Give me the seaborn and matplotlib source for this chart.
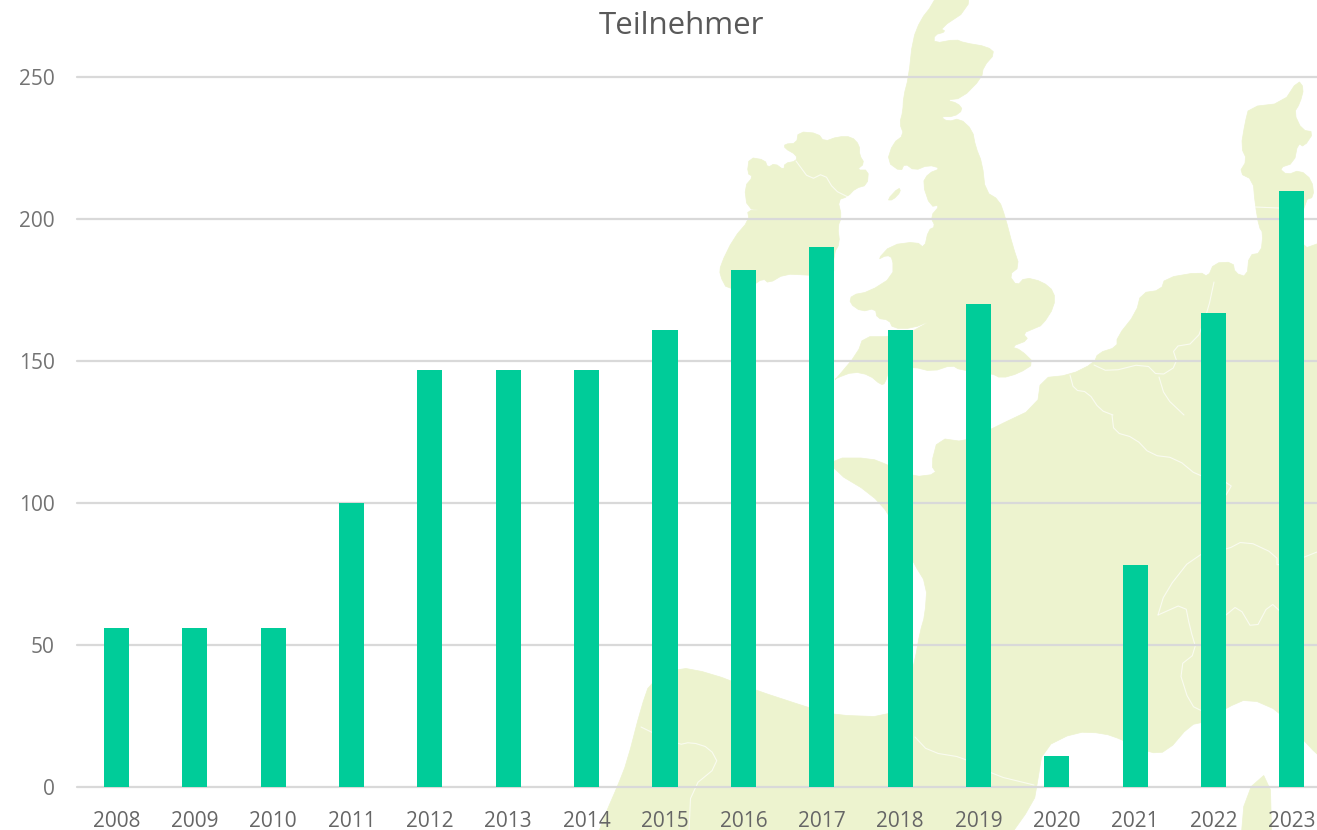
import matplotlib.pyplot as plt
import seaborn as sns
from matplotlib.patches import Polygon

years = ["2008", "2009", "2010", "2011", "2012", "2013", "2014", "2015",
         "2016", "2017", "2018", "2019", "2020", "2021", "2022", "2023"]
teilnehmer = [56, 56, 56, 100, 147, 147, 147, 161, 182, 190, 161, 170, 11, 78, 167, 210]
y_ticks = [0, 50, 100, 150, 200, 250]

BAR = "#00CC99"
LAND = "#EDF3CF"
GRID = "#D9D9D9"

W, H = 1317, 830


# the map outlines were traced on zoomed crops, so scale them back to pixels
def z1(points):
    return [(700 + x / 2.54, y / 3) for x, y in points]


# corner cutting, takes the hard edges off the traced outlines
def smooth(points, closed=True):
    out = [] if closed else [points[0]]
    n = len(points)
    for i in range(n if closed else n - 1):
        (x0, y0), (x1, y1) = points[i], points[(i + 1) % n]
        out.append((0.75 * x0 + 0.25 * x1, 0.75 * y0 + 0.25 * y1))
        out.append((0.25 * x0 + 0.75 * x1, 0.25 * y0 + 0.75 * y1))
    if not closed:
        out.append(points[-1])
    return out


britain = z1([
    (610, -40), (685, -40), (680, 30), (610, 85), (625, 95), (595, 105), (595, 130), (650, 118),
    (670, 128), (730, 140), (750, 160), (720, 200), (715, 235), (665, 295), (625, 300),
    (655, 310), (668, 330), (645, 350), (610, 350), (630, 365), (660, 355), (692, 390),
    (700, 440), (717, 490), (725, 575), (760, 600), (775, 650), (795, 740), (812, 800),
    (785, 825), (805, 858), (825, 832), (870, 845), (900, 875), (900, 920), (870, 975),
    (850, 985), (820, 1000), (835, 1020), (790, 1040), (815, 1050), (850, 1090), (810, 1120),
    (765, 1135), (740, 1120), (660, 1110), (640, 1095), (590, 1115), (540, 1100), (480, 1110),
    (470, 1150), (460, 1155), (430, 1125), (390, 1115), (345, 1135), (343, 1140), (400, 1060),
    (415, 1010), (480, 1010), (530, 1000), (590, 960), (540, 985), (490, 985), (480, 960),
    (450, 955), (445, 925), (410, 935), (380, 910), (385, 885), (430, 875), (490, 830),
    (490, 775), (475, 765), (450, 780), (485, 735), (550, 725), (570, 745), (580, 690),
    (598, 680), (585, 650), (610, 615), (585, 620), (565, 550), (580, 520), (612, 505),
    (580, 495), (545, 512), (520, 490), (510, 515), (475, 485), (490, 430), (518, 405),
    (507, 370), (515, 335), (517, 290), (530, 230), (540, 120), (560, 60), (590, 15),
])
ireland = z1([
    (125, 472), (165, 480), (172, 503), (190, 490), (213, 510), (215, 490), (245, 483),
    (245, 465), (215, 445), (215, 432), (245, 430), (250, 395), (300, 400), (315, 425),
    (350, 410), (385, 410), (405, 435), (405, 465), (418, 490), (398, 510), (428, 510),
    (425, 555), (395, 565), (375, 590), (350, 600), (360, 650), (350, 680), (355, 730),
    (340, 760), (340, 830), (270, 825), (215, 822), (175, 850), (160, 835), (130, 860),
    (70, 870), (50, 825), (52, 795), (85, 715), (125, 660), (120, 630), (160, 632),
    (120, 625), (113, 560), (135, 530), (120, 520),
])
isle_of_man = z1([(475, 600), (505, 562), (510, 575), (490, 600)])
continent = [
    (1298, 80), (1283, 103), (1249, 107), (1245, 123), (1241, 147), (1247, 160), (1239, 173),
    (1253, 180), (1255, 203), (1259, 227), (1263, 233), (1261, 253), (1249, 255), (1247, 277),
    (1235, 273), (1233, 262), (1214, 263), (1208, 277), (1200, 272), (1165, 278), (1161, 290),
    (1141, 293), (1136, 313), (1117, 337), (1117, 347), (1098, 353), (1094, 363), (1070, 375),
    (1041, 378), (1037, 407), (993, 428), (966, 442), (938, 438), (931, 465), (937, 474),
    (913, 477), (888, 465), (870, 458), (833, 458), (835, 472), (870, 493), (890, 515),
    (913, 562), (927, 585), (925, 615), (920, 632), (915, 660), (905, 700), (888, 717),
    (833, 715), (810, 708), (755, 690), (710, 673), (678, 667), (650, 682), (641, 708),
    (627, 762), (618, 785), (605, 815), (592, 850), (1000, 850), (1034, 802), (1037, 785),
    (1043, 748), (1075, 732), (1103, 733), (1123, 740), (1149, 753), (1167, 752), (1190, 725),
    (1204, 722), (1226, 708), (1249, 698), (1281, 712), (1304, 742), (1340, 775), (1340, 225),
    (1310, 250), (1298, 240), (1305, 200), (1314, 197), (1312, 180), (1300, 170), (1287, 175),
    (1279, 168), (1294, 163), (1298, 143), (1304, 147), (1314, 132), (1302, 130), (1294, 113),
    (1300, 103), (1304, 88),
]
corsica = [(1245, 792), (1270, 770), (1272, 850), (1240, 850)]
borders = [
    [(915, 737), (929, 752), (966, 758), (993, 775), (1034, 785)],
    [(641, 727), (678, 745), (691, 742), (710, 748), (719, 765), (691, 788), (689, 830)],
    [(1112, 415), (1114, 432), (1135, 438), (1151, 455), (1176, 458), (1199, 477), (1233, 483), (1226, 495)],
    [(1158, 615), (1165, 592), (1194, 555), (1226, 550), (1245, 540), (1277, 555), (1277, 568), (1317, 552)],
    [(1158, 615), (1185, 603), (1190, 628), (1197, 652), (1178, 667), (1190, 705), (1204, 712)],
    [(1226, 615), (1238, 605), (1254, 632), (1270, 602), (1281, 612)],
    [(1094, 365), (1109, 372), (1145, 363), (1159, 377), (1178, 365), (1172, 347), (1196, 343), (1208, 310), (1214, 282)],
    [(1070, 375), (1074, 390), (1088, 392), (1100, 410), (1113, 415)],
    [(1159, 377), (1165, 397), (1184, 415)],
    [(796, 161), (810, 180), (824, 173), (834, 190), (848, 197)],
    [(1255, 207), (1279, 208)],
]

sns.set_theme(style="white")
plt.rcParams["font.family"] = ["Open Sans", "DejaVu Sans"]

fig = plt.figure(figsize=(W / 100, H / 100), dpi=100)

# background map, pixel coordinates
bg = fig.add_axes([0, 0, 1, 1])
bg.set_xlim(0, W)
bg.set_ylim(H, 0)
bg.axis("off")
for shape in [britain, ireland, isle_of_man, continent, corsica]:
    bg.add_patch(Polygon(smooth(shape), closed=True, facecolor=LAND, edgecolor=LAND, linewidth=0.5))
for line in borders:
    bg.plot(*zip(*smooth(line, closed=False)), color="white", linewidth=0.8, alpha=0.7)

left = 77.2
ax = fig.add_axes([left / W, (H - 787) / H, (W - left) / W, 710 / H])
ax.patch.set_alpha(0)

sns.barplot(x=years, y=teilnehmer, color=BAR, saturation=1, width=0.32, linewidth=0, ax=ax, zorder=3)

ax.set_xlim(-0.5, 15.32)
ax.set_ylim(0, 250)
ax.set_yticks(y_ticks)
ax.set(xlabel="", ylabel="")
ax.yaxis.grid(True, color=GRID, linewidth=1.6, clip_on=False)
ax.set_axisbelow(True)
sns.despine(ax=ax, left=True, right=True, top=True, bottom=True)
ax.tick_params(axis="x", length=0, pad=17, labelsize=15, labelcolor="#666666")
ax.tick_params(axis="y", length=0, pad=16, labelsize=15, labelcolor="#737373")

fig.text(681 / W, 1 - 26 / H, "Teilnehmer", ha="center", va="center", fontsize=22.5, color="#595959")

fig.savefig("out.png", dpi=100)
